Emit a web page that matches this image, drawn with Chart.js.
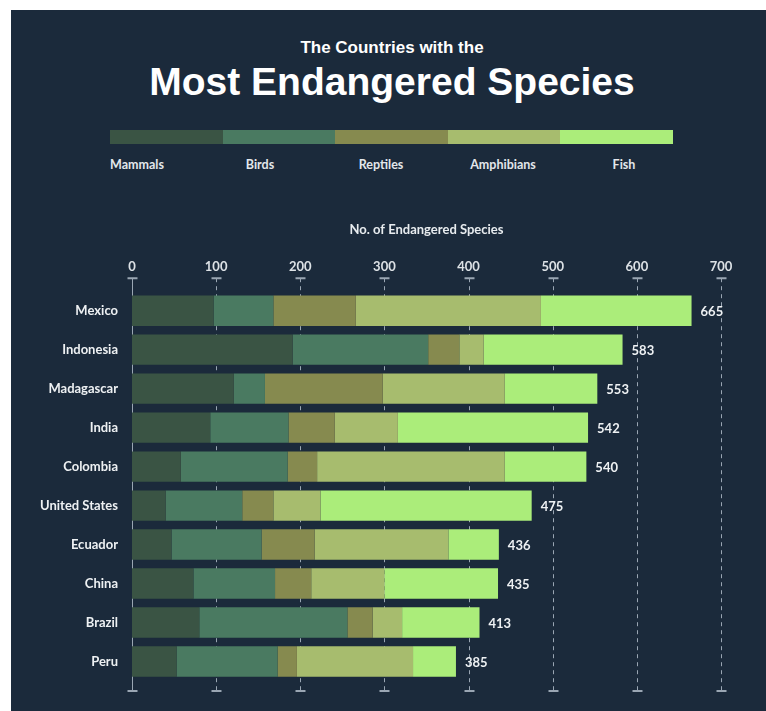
<!DOCTYPE html>
<html>
<head>
<meta charset="utf-8">
<script src="https://cdn.jsdelivr.net/npm/chart.js@4.4.1/dist/chart.umd.min.js"></script>
<style>
  html, body { margin: 0; padding: 0; background: #ffffff; }
  #page { position: relative; width: 766px; height: 711px; overflow: hidden; }
  #panel { position: absolute; left: 11px; top: 10px; width: 755px; height: 701px; background: #1b2a3b; }
  .t1 { position: absolute; left: 0; width: 784px; top: 38px; text-align: center; color: #fff;
        font: bold 17px "Liberation Sans", Arial, sans-serif; }
  .t2 { position: absolute; left: 0; width: 784px; top: 60px; text-align: center; color: #fff;
        font: bold 39px "Liberation Sans", Arial, sans-serif; }
  #legendBar { position: absolute; left: 110px; top: 130px; width: 563px; height: 14px; display: flex; }
  #legendBar div { flex: 1; }
  .lg { position: absolute; top: 157px; transform: translateX(-50%); color: #e3e7eb;
        font: bold 12.5px Lato, sans-serif; white-space: nowrap; }
  #wrap { position: absolute; left: 0; top: 200px; width: 766px; height: 511px; }
</style>
</head>
<body>
<div id="page">
  <div id="panel"></div>
  <div class="t1">The Countries with the</div>
  <div class="t2">Most Endangered Species</div>
  <div id="legendBar"></div>
  <div id="legendText"></div>
  <div id="wrap"><canvas id="myChart"></canvas></div>
</div>
<script>
const countries = ['Mexico', 'Indonesia', 'Madagascar', 'India', 'Colombia', 'United States', 'Ecuador', 'China', 'Brazil', 'Peru'];
const mammals    = [97, 191, 121, 93, 58, 40, 47, 73, 80, 53];
const birds      = [71, 161, 37, 93, 127, 91, 107, 97, 176, 120];
const reptiles   = [98, 37, 140, 55, 35, 37, 63, 43, 30, 23];
const amphibians = [220, 29, 145, 75, 223, 56, 159, 87, 35, 138];
const fish       = [179, 165, 110, 226, 97, 251, 60, 135, 92, 51];
const totals     = [665, 583, 553, 542, 540, 475, 436, 435, 413, 385];
const groups     = ['Mammals', 'Birds', 'Reptiles', 'Amphibians', 'Fish'];
const colors     = ['#3a5444', '#4a7a61', '#868a4f', '#a7bc6e', '#abed7a'];
const xTicks     = [0, 100, 200, 300, 400, 500, 600, 700];

// html legend: colour strip + labels underneath
const legendCenters = [137, 260, 381, 503, 624];
groups.forEach((g, i) => {
    const seg = document.createElement('div');
    seg.style.background = colors[i];
    document.getElementById('legendBar').appendChild(seg);
    const lab = document.createElement('div');
    lab.className = 'lg';
    lab.style.left = legendCenters[i] + 'px';
    lab.textContent = g;
    document.getElementById('legendText').appendChild(lab);
});

const series = [mammals, birds, reptiles, amphibians, fish];

// dashed grid with little caps at both ends, drawn under the bars
const gridPlugin = {
    id: 'capGrid',
    beforeDatasetsDraw(chart) {
        const { ctx, chartArea, scales: { x } } = chart;
        const top = chartArea.top - 13, bottom = chartArea.bottom + 10;
        ctx.save();
        ctx.strokeStyle = '#9aa6b3';
        ctx.lineWidth = 1;
        xTicks.forEach(v => {
            const px = Math.round(x.getPixelForValue(v)) + 0.5;
            ctx.setLineDash(v === 0 ? [] : [4, 4]);
            ctx.beginPath();
            ctx.moveTo(px, top);
            ctx.lineTo(px, bottom);
            ctx.stroke();
            ctx.setLineDash([]);
            ctx.lineWidth = 2;
            ctx.beginPath();
            ctx.moveTo(px - 5, top);
            ctx.lineTo(px + 5, top);
            ctx.moveTo(px - 5, bottom);
            ctx.lineTo(px + 5, bottom);
            ctx.stroke();
            ctx.lineWidth = 1;
        });
        ctx.restore();
    }
};

// totals at the end of each bar
const totalPlugin = {
    id: 'totals',
    afterDatasetsDraw(chart) {
        const { ctx } = chart;
        const meta = chart.getDatasetMeta(series.length - 1);
        ctx.save();
        ctx.fillStyle = '#eef1f3';
        ctx.font = 'bold 13px Lato';
        ctx.textAlign = 'left';
        ctx.textBaseline = 'middle';
        meta.data.forEach((bar, i) => {
            ctx.fillText(totals[i], bar.x + 9, bar.y + 1);
        });
        ctx.restore();
    }
};

const ctx = document.getElementById('myChart').getContext('2d');

new Chart(ctx, {
    type: 'bar',
    data: {
        labels: countries,
        datasets: series.map((d, i) => ({
            label: groups[i],
            data: d,
            backgroundColor: colors[i],
            borderWidth: 0,
            barPercentage: 0.78,
            categoryPercentage: 1
        }))
    },
    options: {
        indexAxis: 'y',
        responsive: true,
        maintainAspectRatio: false,
        animation: false,
        layout: { padding: { top: 22, right: 45, bottom: 30, left: 0 } },
        plugins: {
            legend: { display: false },
            tooltip: { enabled: false }
        },
        scales: {
            x: {
                position: 'top',
                stacked: true,
                min: 0,
                max: 700,
                grid: { display: false, drawTicks: false },
                border: { display: false },
                afterBuildTicks: (scale) => { scale.ticks = xTicks.map(v => ({ value: v })); },
                ticks: { color: '#dde2e6', font: { family: 'Lato', size: 13, weight: 'bold' }, padding: 17 },
                title: {
                    display: true,
                    text: 'No. of Endangered Species',
                    color: '#e8ecef',
                    font: { family: 'Lato', size: 13, weight: 'bold' },
                    padding: { top: 0, bottom: 4 }
                }
            },
            y: {
                stacked: true,
                grid: { display: false, drawTicks: false },
                border: { display: false },
                afterFit: (scale) => { scale.width = 132; },
                ticks: { color: '#eef1f3', font: { family: 'Lato', size: 13, weight: 'bold' }, padding: 14 }
            }
        }
    },
    plugins: [gridPlugin, totalPlugin]
});
</script>
</body>
</html>
